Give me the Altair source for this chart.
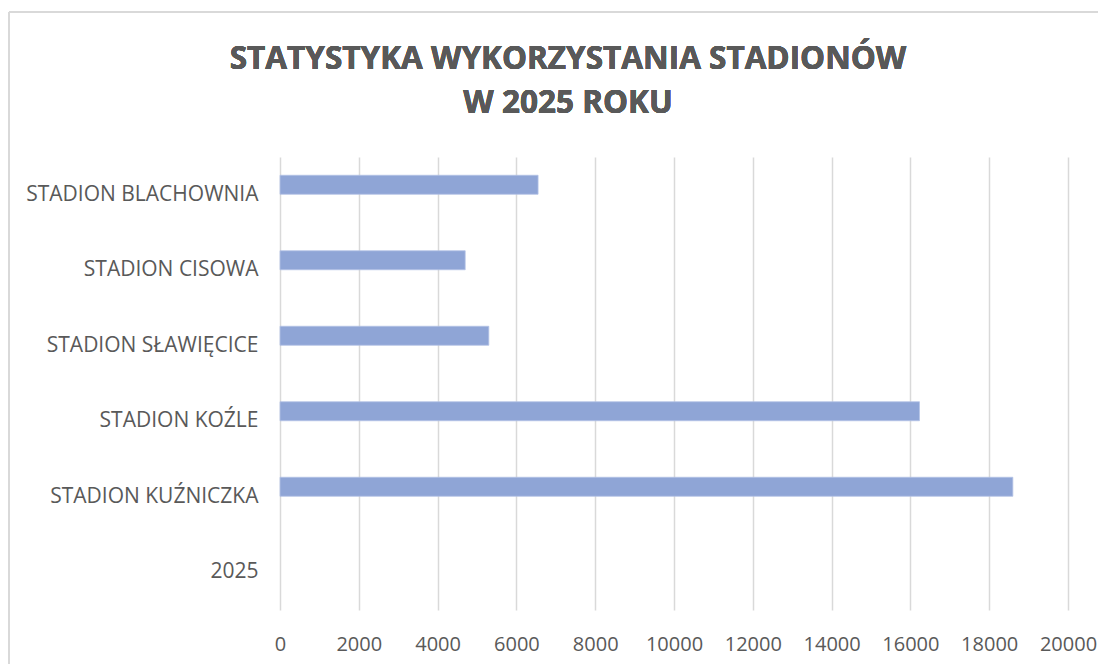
import altair as alt
import pandas as pd

categories = ["STADION BLACHOWNIA", "STADION CISOWA", "STADION SŁAWIĘCICE",
              "STADION KOŹLE", "STADION KUŹNICZKA", "2025"]
values = [6550, 4700, 5300, 16230, 18600, None]
x_ticks = list(range(0, 20001, 2000))
title_lines = ["STATYSTYKA WYKORZYSTANIA STADIONÓW", "W 2025 ROKU"]

df = pd.DataFrame({"stadion": categories, "wartosc": values})

W, H = 788, 453
PAD_L, PAD_T = 272, 149
TEXT = "#595959"
GRID = "#d9d9d9"

bars = alt.Chart(df).mark_bar(size=19, yOffset=-10, color="#8FA5D6",
                              stroke="#B4C3E6", strokeWidth=0.8).encode(
    x=alt.X("wartosc:Q",
            scale=alt.Scale(domain=[0, 20000], nice=False),
            axis=alt.Axis(values=x_ticks, title=None, grid=True, gridColor=GRID,
                          gridWidth=1.5, domain=False, ticks=False, labelOverlap=False,
                          labelFlush=False,
                          labelPadding=24, labelFont="Open Sans", labelFontSize=20,
                          labelColor=TEXT, format="d")),
    y=alt.Y("stadion:N", sort=categories,
            scale=alt.Scale(domain=categories, paddingInner=0, paddingOuter=0),
            axis=alt.Axis(title=None, domain=False, ticks=False, grid=False,
                          labelPadding=22, labelFont="Open Sans", labelFontSize=21,
                          labelColor=TEXT, labelLimit=400)),
)

frame = alt.Chart(df).mark_rule(color=GRID, strokeWidth=1.5).encode(
    x=alt.value(-PAD_L + 1), x2=alt.value(W + 60),
    y=alt.value(-PAD_T + 4), y2=alt.value(-PAD_T + 4),
)
frame_left = alt.Chart(df).mark_rule(color=GRID, strokeWidth=1.5).encode(
    x=alt.value(-PAD_L + 1), x2=alt.value(-PAD_L + 1),
    y=alt.value(-PAD_T + 4), y2=alt.value(H + 80),
)

title1 = alt.Chart(df).mark_text(
    text=title_lines[0], font="Open Sans", fontSize=31.5, fontWeight="bold",
    color=TEXT, align="center", baseline="alphabetic",
).encode(x=alt.value(288), y=alt.value(-88))
title2 = alt.Chart(df).mark_text(
    text=title_lines[1], font="Open Sans", fontSize=31.5, fontWeight="bold",
    color=TEXT, align="center", baseline="alphabetic",
).encode(x=alt.value(288), y=alt.value(-44))

chart = alt.layer(frame, frame_left, title1, title2, bars).properties(
    width=W, height=H,
    autosize=alt.AutoSizeParams(type="none"),
    padding={"left": PAD_L, "top": PAD_T, "right": 30, "bottom": 60},
).configure_view(stroke=None)

chart.save("out.html", embed_options={"renderer": "svg", "actions": False})
